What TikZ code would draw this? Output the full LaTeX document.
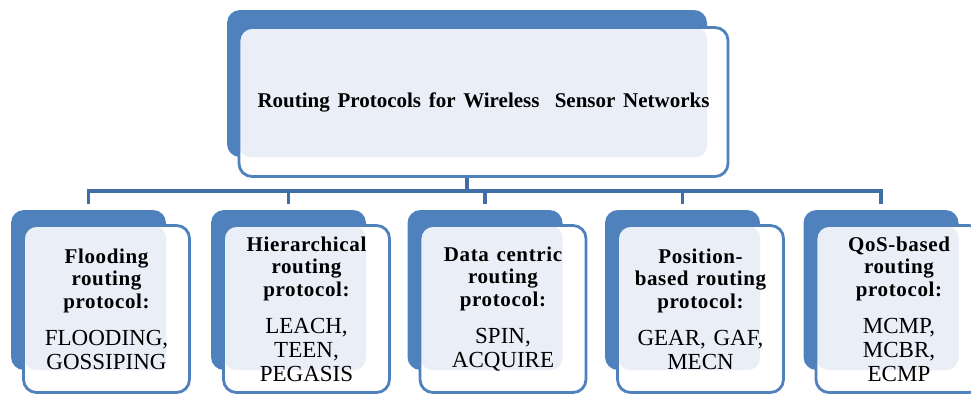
\documentclass[tikz,border=0pt]{standalone}
\usepackage{fontspec}
\setmainfont{Liberation Serif}
\newfontfamily\hdfont[LetterSpace=3]{Liberation Serif Bold}
\usetikzlibrary{positioning, calc, backgrounds}
\definecolor{boxblue}{RGB}{79,129,189}
\definecolor{linkblue}{RGB}{66,110,168}
\definecolor{boxpale}{RGB}{233,238,247}
% bold heading block, gap, then the protocol names
\newcommand{\famtext}[2]{{\hdfont\fontsize{21}{22.5}\selectfont #1\par}\vspace{13pt}#2}

\begin{document}
\begin{tikzpicture}[x=1pt, y=-1pt,
  backbox/.style={fill=boxblue, rounded corners=13pt, inner sep=0pt},
  frontbox/.style={draw=boxblue, line width=2.8pt, fill=white, rounded corners=13pt,
                   inner sep=0pt, align=center, text width=164pt,
                   font=\fontsize{23}{24}\selectfont},
  conn/.style={draw=linkblue, line width=3.6pt}]

\useasboundingbox (0,0) rectangle (971,394);

%% ── root box (blue back plate, pale front panel) ──────────────────
\node[backbox, minimum width=480pt, minimum height=147pt] (root-bk) at (467,83.5) {};
\coordinate (bus) at (467,191);
\draw[conn] (root-bk.south) -- (bus);
\node[frontbox, minimum width=489pt, minimum height=149pt, text width=480pt,
      path picture={\fill[boxpale, rounded corners=12pt]
        (path picture bounding box.north west) rectangle (root-bk.south east);}]
  (root) at (483.5,102) {\fontsize{21}{25}\selectfont\bfseries Routing Protocols for Wireless\ \ Sensor Networks};

%% ── protocol families ────────────────────────────────────────────
% back plate centre x given; front panel sits 18 to the right, 18 lower
\foreach \n/\x/\hd/\nm in {
  flood/88.5/{Flooding\\routing\\protocol:}/{FLOODING,\\GOSSIPING},
  hier/288.5/{Hierarchical\\routing\\protocol:}/{LEACH,\\TEEN,\\PEGASIS},
  data/485/{Data centric\\routing\\protocol:}/{SPIN,\\ACQUIRE},
  pos/682.5/{Position-\\based routing\\protocol:}/{GEAR, GAF,\\MECN},
  qos/881/{QoS-based\\routing\\protocol:}/{MCMP,\\MCBR,\\ECMP}}{
  \node[backbox, minimum width=155pt, minimum height=160pt] (\n-bk) at (\x,290) {};
  \node[frontbox, minimum width=166pt, minimum height=167pt,
        path picture={\fill[boxpale, rounded corners=13pt]
          (path picture bounding box.north west) rectangle (\n-bk.south east);}]
    (\n) at (\x+18,309) {\famtext{\hd}{\nm}};
}

%% ── tree connectors ──────────────────────────────────────────────
\draw[conn, shorten <=6pt, shorten >=6pt] (flood-bk.north) |- (bus -| qos-bk.north) -- (qos-bk.north);
\foreach \n in {hier,data,pos}{
  \draw[conn, shorten >=6pt] (bus -| \n-bk.north) -- (\n-bk.north);
}

\end{tikzpicture}
\end{document}
